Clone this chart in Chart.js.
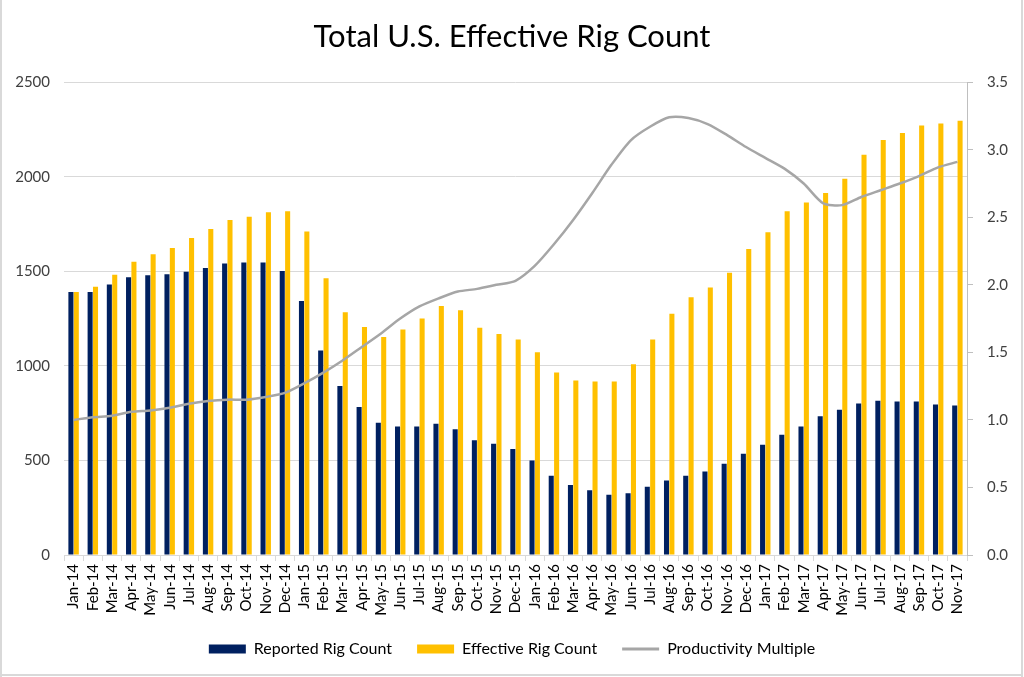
<!DOCTYPE html>
<html>
<head>
<meta charset="utf-8">
<script src="https://cdn.jsdelivr.net/npm/chart.js@4.4.1/dist/chart.umd.min.js"></script>
<style>
  html, body { margin: 0; padding: 0; background: #fff; }
  #wrap { width: 1024px; height: 677px; position: relative; }
</style>
</head>
<body>
<div id="wrap"><canvas id="c" width="1024" height="677"></canvas></div>
<script>
const categories = [
  'Jan-14','Feb-14','Mar-14','Apr-14','May-14','Jun-14','Jul-14','Aug-14','Sep-14','Oct-14','Nov-14','Dec-14',
  'Jan-15','Feb-15','Mar-15','Apr-15','May-15','Jun-15','Jul-15','Aug-15','Sep-15','Oct-15','Nov-15','Dec-15',
  'Jan-16','Feb-16','Mar-16','Apr-16','May-16','Jun-16','Jul-16','Aug-16','Sep-16','Oct-16','Nov-16','Dec-16',
  'Jan-17','Feb-17','Mar-17','Apr-17','May-17','Jun-17','Jul-17','Aug-17','Sep-17','Oct-17','Nov-17'
];
const reportedRigCount = [
  1391,1391,1430,1468,1479,1484,1498,1518,1542,1546,1546,1502,
  1343,1081,893,782,699,680,680,694,665,607,588,560,
  500,419,370,342,319,327,361,394,419,442,482,535,
  583,636,680,734,768,801,815,812,812,796,790
];
const effectiveRigCount = [
  1391,1419,1482,1551,1590,1623,1676,1724,1771,1789,1812,1817,
  1710,1463,1284,1206,1153,1192,1250,1317,1294,1201,1169,1139,
  1072,965,923,917,917,1009,1139,1275,1363,1415,1493,1618,
  1706,1817,1864,1914,1989,2116,2195,2232,2271,2282,2296
];
const productivityMultiple = [
  1.00,1.02,1.03,1.06,1.07,1.09,1.12,1.14,1.15,1.15,1.17,1.20,
  1.27,1.35,1.44,1.54,1.64,1.75,1.84,1.90,1.95,1.97,2.00,2.03,
  2.14,2.30,2.48,2.68,2.89,3.07,3.17,3.24,3.235,3.19,3.11,3.02,
  2.94,2.86,2.75,2.605,2.59,2.65,2.70,2.75,2.805,2.87,2.91
];
const leftTicks = [0, 500, 1000, 1500, 2000, 2500];
const rightTicks = [0, 0.5, 1.0, 1.5, 2.0, 2.5, 3.0, 3.5];

const NAVY = '#002060', GOLD = '#FFC000', GREY = '#A6A6A6', GRID = '#D9D9D9';
const FONT = 'Lato, "Open Sans", sans-serif';

const frame = {
  id: 'frame',
  beforeDraw(chart) {
    const ctx = chart.ctx;
    ctx.save();
    ctx.fillStyle = '#fff';
    ctx.fillRect(0, 0, chart.width, chart.height);
    ctx.fillStyle = GRID;
    ctx.fillRect(0, 0, 2, chart.height);
    ctx.fillRect(chart.width - 3, 0, 2, chart.height);
    ctx.fillRect(0, chart.height - 3, chart.width - 1, 2);
    ctx.restore();
  }
};

new Chart(document.getElementById('c'), {
  type: 'bar',
  data: {
    labels: categories,
    datasets: [
      { label: 'Reported Rig Count', data: reportedRigCount, backgroundColor: NAVY,
        yAxisID: 'y', categoryPercentage: 0.56, barPercentage: 0.94, order: 2 },
      { label: 'Effective Rig Count', data: effectiveRigCount, backgroundColor: GOLD,
        yAxisID: 'y', categoryPercentage: 0.56, barPercentage: 0.94, order: 2 },
      { type: 'line', label: 'Productivity Multiple', data: productivityMultiple,
        borderColor: GREY, backgroundColor: GREY, borderWidth: 2.5, pointRadius: 0,
        tension: 0.25, yAxisID: 'y1', order: 1 }
    ]
  },
  options: {
    responsive: false,
    animation: false,
    layout: { padding: { left: 0, right: 0, top: 0, bottom: 17 } },
    plugins: {
      title: {
        display: true, text: 'Total U.S. Effective Rig Count', color: '#000',
        font: { family: FONT, size: 31, weight: 'normal' },
        padding: { top: 18, bottom: 27 }
      },
      legend: {
        position: 'bottom',
        maxHeight: 44,
        labels: {
          color: '#000',
          font: { family: FONT, size: 16 },
          usePointStyle: true,
          pointStyleWidth: 37,
          boxHeight: 9,
          padding: 25,
          generateLabels(chart) {
            return chart.data.datasets.map((ds, i) => ({
              text: ds.label,
              fillStyle: ds.type === 'line' ? 'rgba(0,0,0,0)' : ds.backgroundColor,
              strokeStyle: ds.type === 'line' ? GREY : ds.backgroundColor,
              lineWidth: ds.type === 'line' ? 3 : 0,
              pointStyle: ds.type === 'line' ? 'line' : 'rect',
              hidden: false,
              datasetIndex: i,
              fontColor: '#000'
            }));
          }
        }
      },
      tooltip: { enabled: false }
    },
    scales: {
      x: {
        offset: true,
        grid: { display: true, drawOnChartArea: false, drawTicks: true, tickLength: 6, color: GRID, offset: true },
        border: { display: true, color: GRID, width: 1 },
        ticks: { autoSkip: false, maxRotation: 90, minRotation: 90, color: '#000',
                 font: { family: FONT, size: 15 }, padding: 3 },
        afterFit(s) { s.height = 61; }
      },
      y: {
        position: 'left', min: 0, max: 2500,
        afterBuildTicks(s) { s.ticks = leftTicks.map(v => ({ value: v })); },
        grid: { color: GRID, drawTicks: false, lineWidth: 1 },
        border: { display: false },
        ticks: { color: '#404040', font: { family: FONT, size: 15 }, padding: 14,
                 callback: v => String(v) },
        afterFit(s) { s.width = 64; }
      },
      y1: {
        position: 'right', min: 0, max: 3.5,
        afterBuildTicks(s) { s.ticks = rightTicks.map(v => ({ value: v })); },
        grid: { drawOnChartArea: false, drawTicks: true, tickLength: 6, color: '#BFBFBF' },
        border: { display: true, color: '#BFBFBF', width: 1 },
        ticks: { color: '#404040', font: { family: FONT, size: 15 }, padding: 14,
                 callback: v => Number(v).toFixed(1) },
        afterFit(s) { s.width = 57; }
      }
    }
  },
  plugins: [frame]
});
</script>
</body>
</html>
